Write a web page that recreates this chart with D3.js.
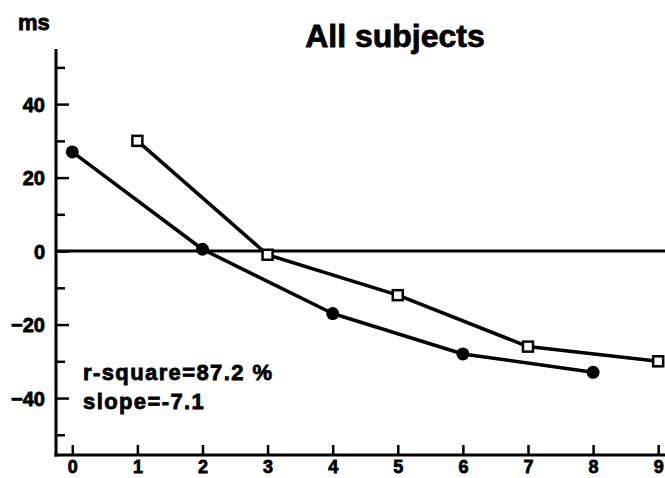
<!DOCTYPE html>
<html>
<head>
<meta charset="utf-8">
<script src="https://cdn.jsdelivr.net/npm/d3@7"></script>
<style>
  html, body { margin: 0; padding: 0; background: #fff; }
  svg { display: block; }
  text { font-family: "Liberation Sans", Arial, Helvetica, sans-serif; font-weight: bold; fill: #000; }
</style>
</head>
<body>
<svg id="chart" width="665" height="478"></svg>
<script>
// ---- data ----
const title = "All subjects";
const yUnit = "ms";
const circleX = [0, 2, 4, 6, 8];
const circleY = [27, 0.5, -17, -28, -33];
const squareX = [1, 3, 5, 7, 9];
const squareY = [30, -1, -12, -26, -30];
const xTicks = [0, 1, 2, 3, 4, 5, 6, 7, 8, 9];
const yMajorTicks = [40, 20, 0, -20, -40];
const yMinorTicks = [50, 30, 10, -10, -30, -50];
const annotations = ["r-square=87.2 %", "slope=-7.1"];

const svg = d3.select("#chart");
const W = 665, H = 478;
const FONT = "'Liberation Sans', Arial, Helvetica, sans-serif";

const x = d3.scaleLinear().domain([-0.25, 9.12]).range([56, 666]);
const y = d3.scaleLinear().domain([-55.5, 55]).range([455, 49]);

// axes lines
const axisG = svg.append("g");
axisG.append("line")
  .attr("x1", x(-0.25)).attr("x2", x(-0.25))
  .attr("y1", y(55)).attr("y2", y(-55.5) + 1.5)
  .attr("stroke", "#000").attr("stroke-width", 3);
axisG.append("line")
  .attr("x1", x(-0.25) - 1.5).attr("x2", W)
  .attr("y1", y(-55.5)).attr("y2", y(-55.5))
  .attr("stroke", "#000").attr("stroke-width", 3);

// zero line
axisG.append("line")
  .attr("x1", x(-0.25)).attr("x2", W)
  .attr("y1", y(0)).attr("y2", y(0))
  .attr("stroke", "#000").attr("stroke-width", 3);

function styleLabels(sel, size) {
  sel.style("font-size", size + "px").style("font-family", FONT).style("font-weight", "bold")
     .attr("fill", "#000").attr("stroke", "#000").attr("stroke-width", 0.8);
}

// y ticks via d3 axis
const yAxis = d3.axisLeft(y).tickValues(yMajorTicks).tickSize(-11).tickPadding(13).tickFormat(d3.format("d"));
const yG = svg.append("g").attr("transform", `translate(${x(-0.25) + 2},0)`).call(yAxis);
yG.select(".domain").remove();
yG.selectAll(".tick line").attr("stroke", "#000").attr("stroke-width", 2.5).attr("x1", -3);
styleLabels(yG.selectAll(".tick text").attr("dy", "0.36em"), 20);

const yMinor = d3.axisLeft(y).tickValues(yMinorTicks).tickSize(-7).tickFormat("");
const ymG = svg.append("g").attr("transform", `translate(${x(-0.25) + 2},0)`).call(yMinor);
ymG.select(".domain").remove();
ymG.selectAll(".tick line").attr("stroke", "#000").attr("stroke-width", 2.5).attr("x1", -3);

// x ticks
const xAxis = d3.axisBottom(x).tickValues(xTicks).tickSize(-9).tickPadding(6).tickFormat(d3.format("d"));
const xG = svg.append("g").attr("transform", `translate(0,${y(-55.5) - 1})`).call(xAxis);
xG.select(".domain").remove();
xG.selectAll(".tick line").attr("stroke", "#000").attr("stroke-width", 2.5);
styleLabels(xG.selectAll(".tick text"), 18);

// lines
const line = d3.line().x(d => x(d[0])).y(d => y(d[1]));
const circleData = circleX.map((v, i) => [v, circleY[i]]);
const squareData = squareX.map((v, i) => [v, squareY[i]]);

svg.append("path").datum(circleData).attr("d", line)
  .attr("fill", "none").attr("stroke", "#000").attr("stroke-width", 3.5).attr("stroke-linejoin", "round");
svg.append("path").datum(squareData).attr("d", line)
  .attr("fill", "none").attr("stroke", "#000").attr("stroke-width", 3.5).attr("stroke-linejoin", "round");

svg.selectAll("circle.pt").data(circleData).enter().append("circle")
  .attr("class", "pt")
  .attr("cx", d => x(d[0])).attr("cy", d => y(d[1])).attr("r", 6.5)
  .attr("fill", "#000");

const s = 10;
svg.selectAll("rect.pt").data(squareData).enter().append("rect")
  .attr("class", "pt")
  .attr("x", d => x(d[0]) - s / 2).attr("y", d => y(d[1]) - s / 2)
  .attr("width", s).attr("height", s)
  .attr("fill", "#fff").attr("stroke", "#000").attr("stroke-width", 2.5);

// title
styleLabels(svg.append("text").attr("x", 395).attr("y", 47).attr("text-anchor", "middle").text(title), 32);

// unit
styleLabels(svg.append("text").attr("x", 18).attr("y", 30).text(yUnit), 22);

// annotations
styleLabels(svg.append("text").attr("x", 83).attr("y", 380).style("letter-spacing", "1.4px").text(annotations[0]), 22);
styleLabels(svg.append("text").attr("x", 83).attr("y", 409).style("letter-spacing", "1.4px").text(annotations[1]), 22);
</script>
</body>
</html>
